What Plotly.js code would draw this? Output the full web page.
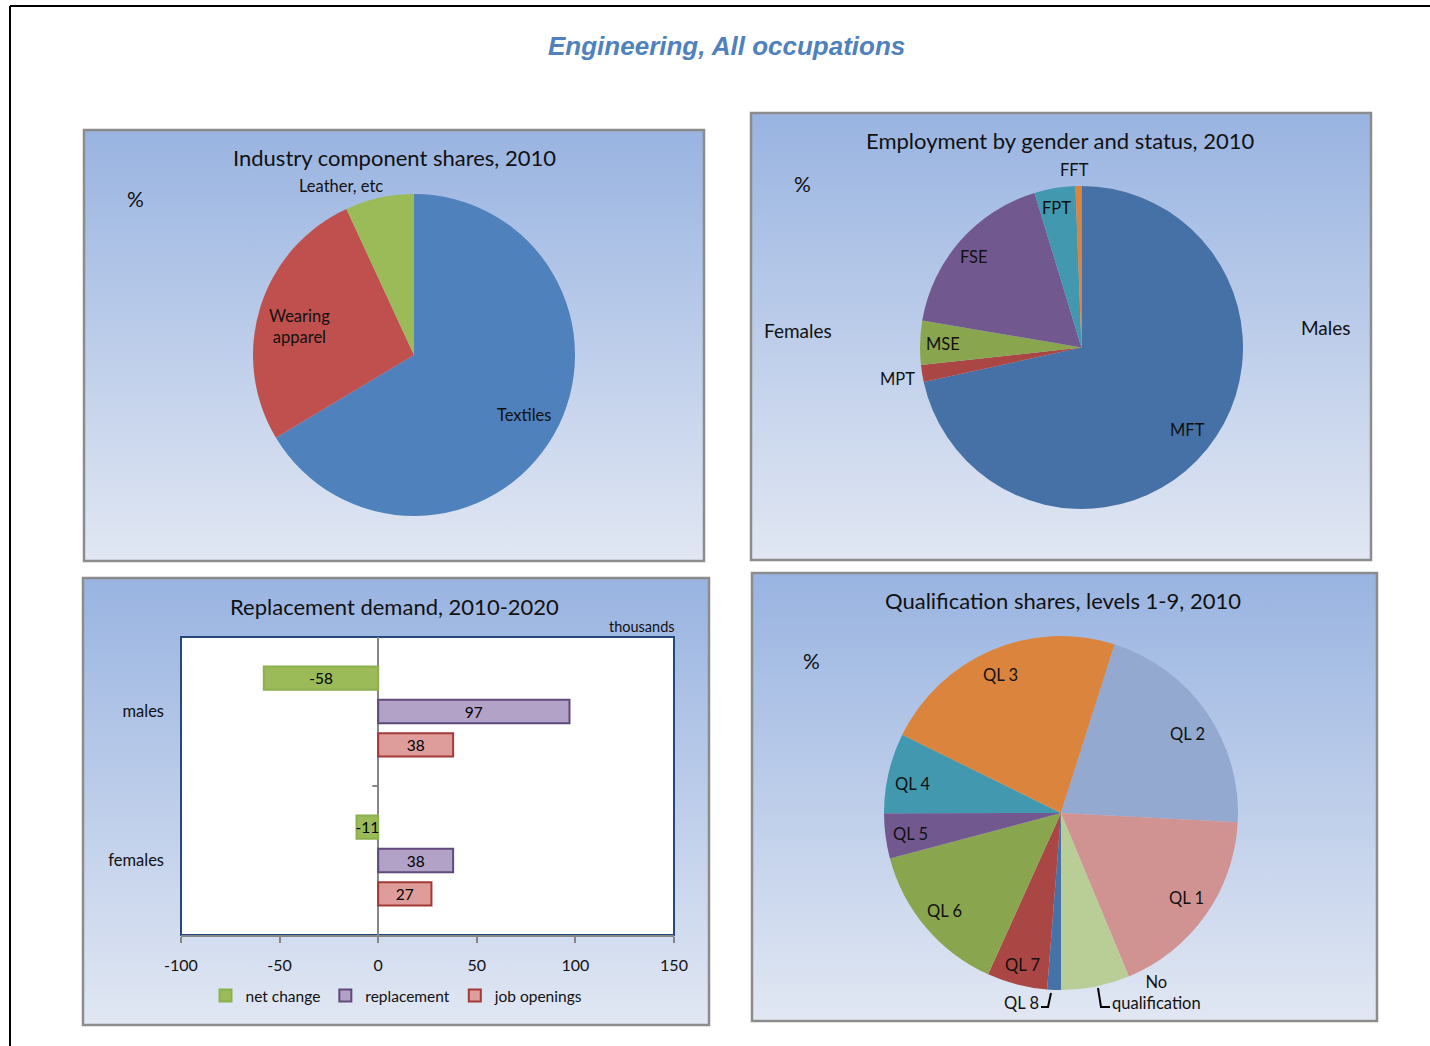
<!DOCTYPE html>
<html>
<head>
<meta charset="utf-8">
<script src="https://cdn.plot.ly/plotly-3.0.1.min.js"></script>
<style>
html,body{margin:0;padding:0;background:#fff;}
#chart{width:1430px;height:1046px;}
</style>
</head>
<body>
<div id="chart"></div>
<script>
// ---------- DATA ----------
const industryLabels = ["Textiles", "Wearing apparel", "Leather, etc"];
const industryValues = [66.4, 26.7, 6.9];

const genderLabels = ["MFT", "MPT", "MSE", "FSE", "FPT", "FFT"];
const genderValues = [71.5, 1.7, 4.4, 17.6, 4.1, 0.6];

const qualLabels = ["QL 8", "QL 7", "QL 6", "QL 5", "QL 4", "QL 3", "QL 2", "QL 1", "No qualification"];
const qualValues = [1.25, 5.5, 14.1, 4.1, 7.3, 22.6, 20.9, 17.9, 6.25];

const barCategories = ["males", "females"];
const netChange = [-58, -11];
const replacement = [97, 38];
const jobOpenings = [38, 27];
const xTicks = [-100, -50, 0, 50, 100, 150];
const xTickText = ["-100", "-50", "0", "50", "100", "150"];

// ---------- HELPERS ----------
const W = 1430, H = 1046;
const px = x => x / W;
const py = y => 1 - y / H;
const FONT = "Lato, 'Open Sans', sans-serif";

const gradSvg = "<svg xmlns='http://www.w3.org/2000/svg' width='100' height='100' preserveAspectRatio='none'>" +
  "<defs><linearGradient id='g' x1='0' y1='0' x2='0' y2='1'>" +
  "<stop offset='0' stop-color='#99B4E1'/><stop offset='1' stop-color='#E1E7F3'/>" +
  "</linearGradient></defs><rect width='100' height='100' fill='url(#g)'/></svg>";
const gradSrc = "data:image/svg+xml;charset=utf-8," + encodeURIComponent(gradSvg);

const panels = [
  {x0: 84, y0: 130, x1: 704, y1: 561},
  {x0: 751, y0: 113, x1: 1371, y1: 560},
  {x0: 83, y0: 578, x1: 709, y1: 1025},
  {x0: 752, y0: 573, x1: 1377, y1: 1021}
];

const images = panels.map(p => ({
  source: gradSrc, xref: "paper", yref: "paper",
  x: px(p.x0), y: py(p.y0), sizex: px(p.x1) - px(p.x0), sizey: py(p.y0) - py(p.y1),
  xanchor: "left", yanchor: "top", sizing: "stretch", layer: "below"
}));

const shapes = [];
panels.forEach(p => shapes.push({
  type: "rect", xref: "paper", yref: "paper",
  x0: px(p.x0), x1: px(p.x1), y0: py(p.y0), y1: py(p.y1),
  line: {color: "#8C8C8C", width: 2.5}, fillcolor: "rgba(0,0,0,0)", layer: "above"
}));
// page frame
shapes.push({type: "line", xref: "paper", yref: "paper", x0: px(10), x1: 1, y0: py(6), y1: py(6), line: {color: "#000", width: 2}});
shapes.push({type: "line", xref: "paper", yref: "paper", x0: px(10), x1: px(10), y0: py(6), y1: 0, line: {color: "#000", width: 2}});
// bar plot area (white, dark blue frame)
shapes.push({type: "rect", xref: "x domain", yref: "y domain", x0: 0, x1: 1, y0: 0, y1: 1,
  fillcolor: "#FFFFFF", line: {color: "#24487A", width: 2}, layer: "below"});
// category separator tick on the zero axis
shapes.push({type: "line", xref: "x", yref: "y domain", x0: -3, x1: 0, y0: 0.5, y1: 0.5,
  line: {color: "#868686", width: 2}});
// leader lines in qualification pie
shapes.push({type: "path", xref: "paper", yref: "paper",
  path: `M ${px(1041)} ${py(1007)} L ${px(1048)} ${py(1007)} L ${px(1051)} ${py(993)}`,
  line: {color: "#000", width: 2}});
shapes.push({type: "path", xref: "paper", yref: "paper",
  path: `M ${px(1098)} ${py(988)} L ${px(1101)} ${py(1007)} L ${px(1110)} ${py(1007)}`,
  line: {color: "#000", width: 2}});

// ---------- TRACES ----------
const pieCommon = {type: "pie", sort: false, direction: "clockwise", textinfo: "none",
  hoverinfo: "skip", showlegend: false};

const pie1 = Object.assign({}, pieCommon, {
  labels: industryLabels, values: industryValues, rotation: 0,
  marker: {colors: ["#4F81BD", "#C0504D", "#9BBB59"], line: {width: 0}},
  domain: {x: [px(253), px(575)], y: [py(516), py(194)]}
});
const pie2 = Object.assign({}, pieCommon, {
  labels: genderLabels, values: genderValues, rotation: 0,
  marker: {colors: ["#4571A6", "#AA4644", "#89A54E", "#71588F", "#4198AF", "#DB843D"], line: {width: 0}},
  domain: {x: [px(920), px(1243)], y: [py(509), py(186)]}
});
const pie3 = Object.assign({}, pieCommon, {
  labels: qualLabels, values: qualValues, rotation: 180,
  marker: {colors: ["#4572A7", "#AA4643", "#89A54E", "#71588F", "#4198AF", "#DB843D", "#93A9CF", "#D19392", "#B9CD96"], line: {width: 0}},
  domain: {x: [px(884), px(1238)], y: [py(990), py(636)]}
});

const barCommon = {type: "bar", orientation: "h", y: barCategories, textposition: "inside",
  insidetextanchor: "middle", constraintext: "none", textangle: 0,
  textfont: {family: FONT, size: 15.5, color: "#000"}, hoverinfo: "skip", xaxis: "x", yaxis: "y"};

const bar1 = Object.assign({}, barCommon, {name: "net change", x: netChange, text: netChange.map(String),
  marker: {color: "#9BBB59", line: {color: "#8DB04E", width: 2}}});
const bar2 = Object.assign({}, barCommon, {name: "replacement", x: replacement, text: replacement.map(String),
  marker: {color: "#B3A2C7", line: {color: "#604A7B", width: 2}}});
const bar3 = Object.assign({}, barCommon, {name: "job openings", x: jobOpenings, text: jobOpenings.map(String),
  marker: {color: "#DE9C9A", line: {color: "#A33A38", width: 2}}});

// ---------- ANNOTATIONS ----------
const ann = [];
function txt(text, x, y, size, extra) {
  ann.push(Object.assign({text: text, xref: "paper", yref: "paper", x: px(x), y: py(y),
    xanchor: "center", yanchor: "middle", showarrow: false,
    font: {family: FONT, size: size, color: "#111"}}, extra || {}));
}
txt("<b><i>Engineering, All occupations</i></b>", 727, 46, 26,
  {font: {family: "'Liberation Sans', Arial, sans-serif", size: 26, color: "#4F81BD"}});
txt("Industry component shares, 2010", 394, 157, 22);
txt("Employment by gender and status, 2010", 1060, 140, 22);
txt("Replacement demand, 2010-2020", 395, 606, 22);
txt("Qualification shares, levels 1-9, 2010", 1063, 600, 22);
txt("%", 135, 199, 21);
txt("%", 802, 183, 21);
txt("%", 811, 660, 21);

const pieLabelPos = {
  "Textiles": [524, 415], "Wearing apparel": [299, 326], "Leather, etc": [341, 186],
  "MFT": [1187, 430], "MPT": [897, 379], "MSE": [943, 344], "FSE": [974, 257], "FPT": [1056, 208], "FFT": [1074, 170],
  "QL 8": [1021, 1003], "QL 7": [1022, 965], "QL 6": [944, 911], "QL 5": [910, 834], "QL 4": [913, 784],
  "QL 3": [1001, 675], "QL 2": [1187, 734], "QL 1": [1186, 898], "No qualification": [1156, 992]
};
const labelText = {"Wearing apparel": "Wearing<br>apparel", "No qualification": "No<br>qualification"};
[industryLabels, genderLabels, qualLabels].forEach(arr => arr.forEach(l => {
  const p = pieLabelPos[l];
  txt(labelText[l] || l, p[0], p[1], 16.5);
}));
txt("Females", 798, 330, 19);
txt("Males", 1326, 327, 19);
txt("thousands", 642, 626, 14.5);

// ---------- LAYOUT ----------
const layout = {
  width: W, height: H, margin: {l: 0, r: 0, t: 0, b: 0},
  paper_bgcolor: "#FFFFFF", plot_bgcolor: "rgba(0,0,0,0)",
  font: {family: FONT, size: 15, color: "#111"},
  barmode: "group", bargap: 0.33, bargroupgap: 0.3,
  xaxis: {domain: [px(181), px(674)], range: [-100, 150], tickvals: xTicks, ticktext: xTickText, showgrid: false,
    zeroline: true, zerolinecolor: "#868686", zerolinewidth: 2,
    showline: true, linecolor: "#868686", linewidth: 2,
    ticks: "outside", ticklen: 6, tickwidth: 2, tickcolor: "#868686",
    ticklabelstandoff: 9, tickfont: {family: FONT, size: 16, color: "#111"}, fixedrange: true},
  yaxis: {domain: [py(935), py(637)], type: "category", autorange: "reversed", showgrid: false,
    zeroline: false, showline: false, ticks: "", ticklabelstandoff: 16,
    tickfont: {family: FONT, size: 16.5, color: "#111"}, fixedrange: true},
  showlegend: true,
  legend: {orientation: "h", x: px(397), xanchor: "center", y: py(996), yanchor: "middle",
    bgcolor: "rgba(0,0,0,0)", font: {family: FONT, size: 15.5, color: "#111"}, traceorder: "normal",
    itemwidth: 30, tracegroupgap: 0},
  images: images, shapes: shapes, annotations: ann
};

Plotly.newPlot("chart", [bar1, bar2, bar3, pie1, pie2, pie3], layout, {staticPlot: true, displayModeBar: false});
</script>
</body>
</html>
